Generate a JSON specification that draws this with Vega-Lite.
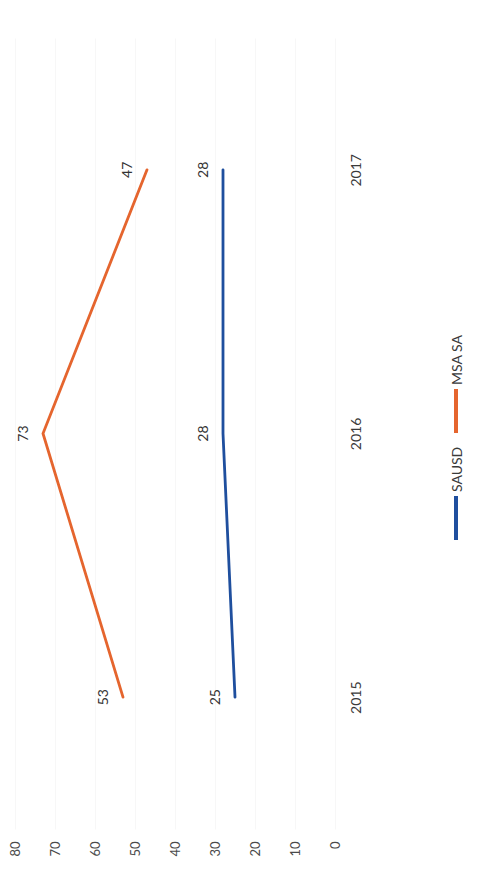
{
  "$schema": "https://vega.github.io/schema/vega-lite/v6.json",
  "autosize": {"type": "none"},
  "padding": {"left": 15, "top": 38, "right": 146, "bottom": 47},
  "width": 320,
  "height": 791,
  "background": "#ffffff",
  "config": {
    "view": {"stroke": null},
    "font": "Lato",
    "axis": {"labelFont": "Lato", "labelColor": "#4a4a4a", "labelFontSize": 13}
  },
  "data": {
    "values": [
      {"year": "2015", "district": "SAUSD", "value": 25},
      {"year": "2016", "district": "SAUSD", "value": 28},
      {"year": "2017", "district": "SAUSD", "value": 28},
      {"year": "2015", "district": "MSA SA", "value": 53},
      {"year": "2016", "district": "MSA SA", "value": 73},
      {"year": "2017", "district": "MSA SA", "value": 47}
    ]
  },
  "encoding": {
    "x": {
      "field": "value",
      "type": "quantitative",
      "scale": {"domain": [0, 80], "reverse": true, "nice": false},
      "axis": {
        "title": null,
        "orient": "bottom",
        "values": [0, 10, 20, 30, 40, 50, 60, 70, 80],
        "labelAngle": 270,
        "labelAlign": "right",
        "labelBaseline": "middle",
        "labelPadding": 12,
        "ticks": false,
        "domain": false,
        "grid": true,
        "gridColor": "#f7f7f7",
        "gridWidth": 1
      }
    },
    "y": {
      "field": "year",
      "type": "ordinal",
      "sort": "descending",
      "scale": {"type": "point", "padding": 0.5},
      "axis": {
        "title": null,
        "orient": "right",
        "labelAngle": 270,
        "labelAlign": "center",
        "labelBaseline": "middle",
        "labelPadding": 21,
        "labelFontSize": 14,
        "labelColor": "#3a3a3a",
        "ticks": false,
        "domain": false,
        "grid": false
      }
    }
  },
  "layer": [
    {
      "mark": {"type": "line", "strokeWidth": 2.8, "strokeCap": "round"},
      "encoding": {
        "order": {"field": "year", "type": "ordinal"},
        "color": {
          "field": "district",
          "type": "nominal",
          "scale": {"domain": ["MSA SA", "SAUSD"], "range": ["#e5652e", "#1f4f9e"]},
          "legend": {
            "title": null,
            "orient": "none",
            "legendX": 417,
            "legendY": 349,
            "direction": "vertical",
            "symbolType": "M0,-1V1",
            "symbolSize": 1936,
            "symbolStrokeWidth": 4,
            "labelFont": "Lato",
            "labelFontSize": 14,
            "labelColor": "#3a3a3a",
            "labelOffset": 0,
            "rowPadding": 5,
            "encode": {
              "labels": {
                "update": {
                  "angle": {"value": 270},
                  "align": {"value": "left"},
                  "baseline": {"value": "middle"},
                  "dx": {"value": 26},
                  "dy": {"value": -22}
                }
              }
            }
          }
        }
      }
    },
    {
      "mark": {
        "type": "text",
        "angle": 270,
        "align": "center",
        "baseline": "middle",
        "dy": -19,
        "fontSize": 14,
        "color": "#333333"
      },
      "encoding": {
        "text": {"field": "value", "type": "quantitative"}
      }
    }
  ]
}
